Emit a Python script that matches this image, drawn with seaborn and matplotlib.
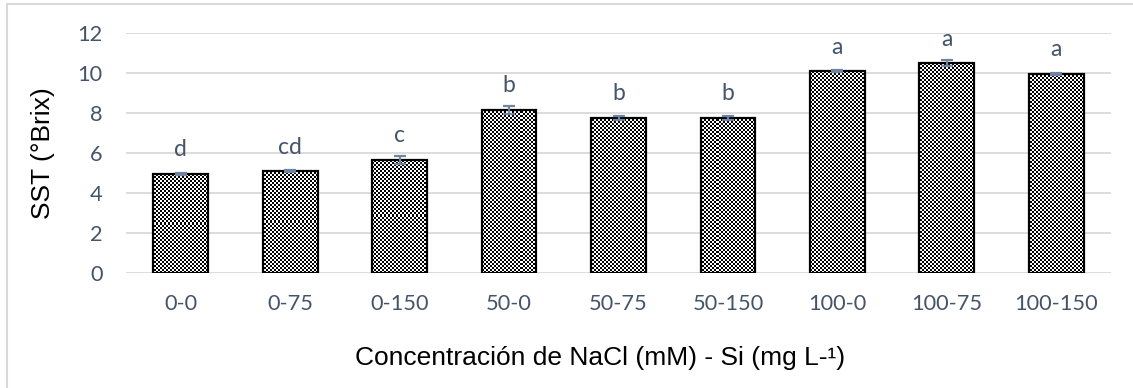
import numpy as np
import pandas as pd
import matplotlib
matplotlib.use("Agg")
import matplotlib.pyplot as plt
from matplotlib.lines import Line2D
import seaborn as sns

# Treatment labels: NaCl (mM) - Si (mg L-1)
treatments = ["0-0", "0-75", "0-150", "50-0", "50-75", "50-150",
              "100-0", "100-75", "100-150"]
# Soluble solids (°Brix) and their standard errors
sst = [4.95, 5.10, 5.65, 8.15, 7.75, 7.75, 10.10, 10.50, 9.95]
sst_err = [0.03, 0.05, 0.20, 0.20, 0.10, 0.08, 0.03, 0.17, 0.06]
# Tukey grouping letters
letters = ["d", "cd", "c", "b", "b", "b", "a", "a", "a"]
y_ticks = [0, 2, 4, 6, 8, 10, 12]

df = pd.DataFrame({"trat": treatments, "sst": sst})

sns.set_theme(style="white")
plt.rcParams["font.family"] = ["Lato", "DejaVu Sans"]

W, H, DPI = 1133, 388, 100
fig = plt.figure(figsize=(W / DPI, H / DPI), dpi=DPI)
ax_left, ax_right, ax_bottom, ax_top = 126, 1111, 273, 33
ax = fig.add_axes([ax_left / W, 1 - ax_bottom / H,
                   (ax_right - ax_left) / W, (ax_bottom - ax_top) / H])

text_col = "#44546A"
err_col = "#6F84A0"

sns.barplot(data=df, x="trat", y="sst", order=treatments, width=0.5,
            color="white", edgecolor="black", linewidth=1.6,
            errorbar=None, ax=ax)

ax.set_ylim(0, 12)
ax.set_xlim(-0.5, len(treatments) - 0.5)

# Fine checkerboard fill for each bar
pw, ph = ax_right - ax_left, ax_bottom - ax_top
yy, xx = np.mgrid[0:ph, 0:pw]
checker = (((xx // 2) + (yy // 2)) % 2).astype(float)
for patch in ax.patches:
    img = ax.imshow(checker, cmap="gray", vmin=0, vmax=1,
                    extent=(-0.5, len(treatments) - 0.5, 0, 12),
                    interpolation="nearest", aspect="auto", zorder=2)
    img.set_clip_path(patch)
    patch.set_facecolor("none")
    patch.set_zorder(3)
ax.set_xlim(-0.5, len(treatments) - 0.5)
ax.set_ylim(0, 12)

xpos = np.arange(len(treatments))
ax.errorbar(xpos, sst, yerr=sst_err, fmt="none", ecolor=err_col,
            elinewidth=1.6, capsize=4.5, capthick=1.6, zorder=4)

for x, v, lab in zip(xpos, sst, letters):
    ax.annotate(lab, (x, v), xytext=(0, 12.6), textcoords="offset points",
                ha="center", va="baseline", fontsize=16.5, color=text_col)

ax.set_yticks(y_ticks)
ax.yaxis.grid(True, color="#D9D9D9", linewidth=1.3)
ax.set_axisbelow(True)
for s in ax.spines.values():
    s.set_visible(False)
ax.tick_params(axis="both", length=0, labelsize=15.7, labelcolor=text_col)
ax.tick_params(axis="x", pad=15)
ax.tick_params(axis="y", pad=17)

ax.set_xlabel("Concentración de NaCl (mM) - Si (mg L-¹)",
              fontsize=19, color="black", family="Liberation Sans")
ax.xaxis.label.set_va("center")
ax.xaxis.set_label_coords(0.481, -(358 - ax_bottom) / (ax_bottom - ax_top))
ax.set_ylabel("SST (°Brix)", fontsize=19, color="black",
              family="Liberation Sans", labelpad=16)

# Chart-area frame (left and top edges)
fig.add_artist(Line2D([7 / W, 7 / W], [0, 1 - 4 / H], transform=fig.transFigure,
                      color="#D9D9D9", linewidth=1.5))
fig.add_artist(Line2D([7 / W, 1], [1 - 4 / H, 1 - 4 / H], transform=fig.transFigure,
                      color="#D9D9D9", linewidth=1.5))

fig.savefig("out.png", dpi=DPI)
